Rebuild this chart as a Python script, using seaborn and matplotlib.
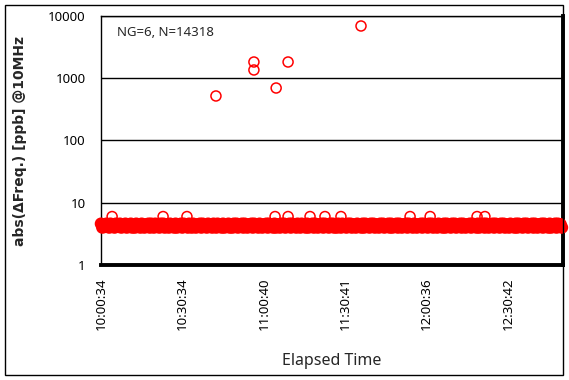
import matplotlib
matplotlib.use("Agg")
import matplotlib.pyplot as plt
import seaborn as sns
import pandas as pd
from matplotlib.patches import Rectangle

# ---- data (minutes elapsed since 10:00:34, abs(dFreq) in ppb) ----
# dense baseline readings, one every half minute from 0 to 170 min
baseline_step = 0.5
baseline_val = [
    4.6, 4.0, 4.5, 4.1, 4.6, 4.3, 4.0, 4.6, 4.1, 4.5, 4.0, 4.6, 4.2, 4.1, 4.6, 4.0, 4.5, 4.1, 4.6, 4.0,
    4.5, 4.1, 4.6, 4.0, 4.4, 4.0, 4.6, 4.1, 4.5, 4.0, 4.6, 4.2, 4.0, 4.5, 4.1, 4.6, 4.0, 4.6, 4.3, 4.0,
    4.6, 4.1, 4.5, 4.0, 4.6, 4.1, 4.6, 4.0, 4.5, 4.2, 4.0, 4.6, 4.1, 4.5, 4.0, 4.6, 4.0, 4.5, 4.1, 4.6,
    4.0, 4.6, 4.2, 4.5, 4.0, 4.6, 4.1, 4.0, 4.6, 4.3, 4.0, 4.5, 4.1, 4.6, 4.0, 4.6, 4.1, 4.5, 4.0, 4.6,
    4.1, 4.5, 4.0, 4.6, 4.2, 4.0, 4.6, 4.1, 4.5, 4.0, 4.6, 4.0, 4.5, 4.1, 4.6, 4.0, 4.4, 4.0, 4.6, 4.1,
    4.6, 4.0, 4.5, 4.1, 4.6, 4.0, 4.6, 4.3, 4.0, 4.5, 4.1, 4.6, 4.0, 4.6, 4.1, 4.5, 4.0, 4.6, 4.2, 4.0,
    4.5, 4.1, 4.6, 4.0, 4.6, 4.1, 4.5, 4.0, 4.6, 4.0, 4.5, 4.2, 4.0, 4.6, 4.1, 4.6, 4.0, 4.5, 4.1, 4.6,
    4.0, 4.6, 4.1, 4.5, 4.0, 4.6, 4.3, 4.0, 4.6, 4.1, 4.5, 4.0, 4.6, 4.0, 4.5, 4.1, 4.6, 4.0, 4.6, 4.2,
    4.0, 4.5, 4.1, 4.6, 4.0, 4.6, 4.1, 4.5, 4.0, 4.6, 4.1, 4.6, 4.0, 4.5, 4.0, 4.6, 4.2, 4.0, 4.6, 4.1,
    4.5, 4.0, 4.6, 4.1, 4.6, 4.0, 4.5, 4.3, 4.0, 4.6, 4.1, 4.5, 4.0, 4.6, 4.0, 4.6, 4.1, 4.5, 4.0, 4.6,
    4.1, 4.6, 4.0, 4.5, 4.2, 4.0, 4.6, 4.1, 4.6, 4.0, 4.5, 4.1, 4.6, 4.0, 4.6, 4.0, 4.5, 4.1, 4.6, 4.0,
    4.6, 4.2, 4.0, 4.5, 4.1, 4.6, 4.0, 4.6, 4.1, 4.5, 4.0, 4.6, 4.3, 4.0, 4.5, 4.1, 4.6, 4.0, 4.6, 4.1,
    4.5, 4.0, 4.6, 4.1, 4.6, 4.0, 4.5, 4.2, 4.0, 4.6, 4.1, 4.5, 4.0, 4.6, 4.0, 4.6, 4.1, 4.5, 4.0, 4.6,
    4.1, 4.6, 4.0, 4.5, 4.1, 4.6, 4.0, 4.6, 4.2, 4.0, 4.5, 4.1, 4.6, 4.0, 4.6, 4.1, 4.5, 4.0, 4.6, 4.0,
    4.5, 4.1, 4.6, 4.0, 4.6, 4.3, 4.0, 4.5, 4.1, 4.6, 4.0, 4.6, 4.1, 4.5, 4.0, 4.6, 4.1, 4.6, 4.0, 4.5,
    4.2, 4.0, 4.6, 4.1, 4.5, 4.0, 4.6, 4.0, 4.6, 4.1, 4.5, 4.0, 4.6, 4.1, 4.6, 4.0, 4.5, 4.1, 4.6, 4.0,
    4.6, 4.2, 4.0, 4.5, 4.1, 4.6, 4.0, 4.6, 4.1, 4.5, 4.0, 4.6, 4.0, 4.5, 4.1, 4.6, 4.0, 4.6, 4.1, 4.5,
    4.0,
]
baseline_min = [i * baseline_step for i in range(len(baseline_val))]
minor_min = [4.1, 22.9, 31.7, 64.2, 69.0, 77.1, 82.6, 88.5, 114.0, 121.4, 138.7, 141.6]
minor_val = [6, 6, 6, 6, 6, 6, 6, 6, 6, 6, 6, 6]
outlier_min = [42.4, 56.4, 56.4, 64.6, 69.0, 95.9]
outlier_val = [519, 1824, 1358, 697, 1824, 6910]

tick_min = [0, 30, 60.1, 90.1, 120.03, 150.13]
tick_labels = ["10:00:34", "10:30:34", "11:00:40", "11:30:41", "12:00:36", "12:30:42"]
y_ticks = [1, 10, 100, 1000, 10000]
y_tick_labels = ["1", "10", "100", "1000", "10000"]

base_df = pd.DataFrame({"t": baseline_min, "v": baseline_val})
rare_df = pd.DataFrame({"t": minor_min + outlier_min, "v": minor_val + outlier_val})

sns.set_theme(style="white")
plt.rcParams["font.family"] = ["Noto Sans", "DejaVu Sans"]

fig = plt.figure(figsize=(5.69, 3.80), dpi=100)
ax = fig.add_axes([101 / 569, 1 - 265 / 380, 462 / 569, 249 / 380])

# the dense baseline (thousands of overlapping circles) renders as a solid band
sns.scatterplot(data=base_df, x="t", y="v", ax=ax, marker="o", s=34,
                color="#ff0000", clip_on=False, zorder=3)
ax.collections[-1].set_facecolor("none")
ax.collections[-1].set_edgecolor("#ff0000")
ax.collections[-1].set_linewidth(3.2)

sns.scatterplot(data=rare_df, x="t", y="v", ax=ax, marker="o", s=52,
                color="#ff0000", clip_on=False, zorder=3)
ax.collections[-1].set_facecolor("none")
ax.collections[-1].set_edgecolor("#ff0000")
ax.collections[-1].set_linewidth(1.1)

ax.set_yscale("log")
ax.set_ylim(1, 10000)
ax.set_xlim(0, 170.4)
ax.set_yticks(y_ticks)
ax.set_yticklabels(y_tick_labels)
ax.minorticks_off()
ax.set_xticks(tick_min)
ax.set_xticklabels(tick_labels, rotation=90)
ax.tick_params(axis="both", length=0, labelsize=9.5, colors="black")
ax.tick_params(axis="y", pad=11)
ax.tick_params(axis="x", pad=9)

ax.grid(axis="y", color="black", linewidth=1.0)
ax.grid(axis="x", visible=False)
for s in ["left", "top"]:
    ax.spines[s].set_color("black")
    ax.spines[s].set_linewidth(1.0)
for s in ["bottom", "right"]:
    ax.spines[s].set_color("black")
    ax.spines[s].set_linewidth(2.8)

ax.set_xlabel("")
ax.set_ylabel("")
fig.text(20 / 569, 1 - 141 / 380, "abs(ΔFreq.) [ppb] @10MHz", rotation=90,
         ha="center", va="center", fontsize=10, fontweight="bold",
         family=["DejaVu Sans"])
fig.text(332 / 569, 1 - 361 / 380, "Elapsed Time", ha="center", va="center", fontsize=11.5)
fig.text(117 / 569, 1 - 33 / 380, "NG=6, N=14318", ha="left", va="center", fontsize=9.5)

fig.patches.append(Rectangle((5 / 569, 5 / 380), 558 / 569, 370 / 380,
                             transform=fig.transFigure, fill=False,
                             edgecolor="black", linewidth=1.0))

fig.savefig("out.png", dpi=100)
